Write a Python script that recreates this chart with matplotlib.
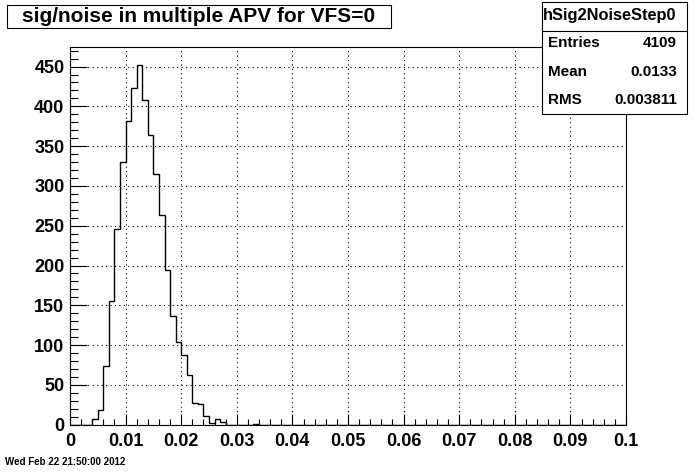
import numpy as np
import matplotlib
matplotlib.use("Agg")
import matplotlib.pyplot as plt
from matplotlib.patches import Rectangle
from matplotlib.ticker import MultipleLocator

# ---- data (bin counts, 100 bins of width 0.001 from 0 to 0.1) ----
bin_width = 0.001
x_min, x_max = 0.0, 0.1
nonzero_bins = [4, 5, 6, 7, 8, 9, 10, 11, 12, 13, 14, 15, 16, 17, 18, 19, 20,
                21, 22, 23, 24, 25, 26, 27, 33]
nonzero_counts = [7, 19, 74, 156, 246, 330, 382, 423, 452, 408, 364, 315, 264,
                  195, 137, 104, 87, 62, 27, 26, 11, 2, 7, 4, 1]
title = "sig/noise in multiple APV for VFS=0"
stats_name = "hSig2NoiseStep0"
stats_labels = ["Entries", "Mean", "RMS"]
stats_values = ["4109", "0.0133", "0.003811"]
date_text = "Wed Feb 22 21:50:00 2012"
x_ticks = [0, 0.01, 0.02, 0.03, 0.04, 0.05, 0.06, 0.07, 0.08, 0.09, 0.1]
x_ticklabels = ["0", "0.01", "0.02", "0.03", "0.04", "0.05", "0.06", "0.07", "0.08", "0.09", "0.1"]

nbins = int(round((x_max - x_min) / bin_width))
edges = np.linspace(x_min, x_max, nbins + 1)
counts = np.zeros(nbins)
counts[nonzero_bins] = nonzero_counts

plt.rcParams['font.family'] = ['Liberation Sans', 'DejaVu Sans']
plt.rcParams['font.weight'] = 'bold'

W, H = 696, 472
fig = plt.figure(figsize=(W / 100, H / 100), dpi=100)
L, R, T, B = 70, 626, 47, 424.7
ax = fig.add_axes([L / W, 1 - B / H, (R - L) / W, (B - T) / H])

ax.stairs(counts, edges, color='black', linewidth=1.0)
ax.set_xlim(x_min, x_max)
ax.set_ylim(0, counts.max() * 1.05)

ax.set_xticks(x_ticks)
ax.set_xticklabels(x_ticklabels)
ax.xaxis.set_minor_locator(MultipleLocator(0.002))
ax.yaxis.set_major_locator(MultipleLocator(50))
ax.yaxis.set_minor_locator(MultipleLocator(10))
ax.tick_params(axis='both', which='both', direction='in', color='black', width=0.8)
ax.tick_params(axis='y', which='major', length=12, labelsize=13, pad=4)
ax.tick_params(axis='y', which='minor', length=6)
ax.tick_params(axis='x', which='major', length=8, labelsize=13, pad=6)
ax.tick_params(axis='x', which='minor', length=4)
for lab in ax.get_xticklabels() + ax.get_yticklabels():
    lab.set_fontweight('bold')
ax.grid(True, which='major', color='black', linestyle=(0, (1, 3)), linewidth=0.8)
for s in ax.spines.values():
    s.set_linewidth(0.8)

# title box
def px_rect(x0, y0, x1, y1):
    return Rectangle((x0 / W, 1 - y1 / H), (x1 - x0) / W, (y1 - y0) / H,
                     transform=fig.transFigure, facecolor='white',
                     edgecolor='black', linewidth=0.8, zorder=5)

fig.patches.append(px_rect(7, 5, 391, 28))
fig.text(22 / W, 1 - 16.5 / H, title, fontsize=15, fontweight='bold',
         ha='left', va='center', zorder=6)

# stats box
fig.patches.append(px_rect(542, 2, 687, 114))
fig.lines.append(plt.Line2D([542 / W, 687 / W], [1 - 31 / H, 1 - 31 / H],
                            transform=fig.transFigure, color='black', linewidth=0.8, zorder=6))
fig.text(610 / W, 1 - 15.5 / H, stats_name, fontsize=11.8, fontweight='bold',
         ha='center', va='center', zorder=6)
row_y = [43, 71.5, 99.5]
for lab, val, y in zip(stats_labels, stats_values, row_y):
    fig.text(548 / W, 1 - y / H, lab, fontsize=11, fontweight='bold',
             ha='left', va='center', zorder=6)
    fig.text(677 / W, 1 - y / H, val, fontsize=11, fontweight='bold',
             ha='right', va='center', zorder=6)

fig.text(5 / W, 1 - 462 / H, date_text, fontsize=7, fontweight='bold',
         ha='left', va='center')

fig.savefig("out.png", dpi=100)
